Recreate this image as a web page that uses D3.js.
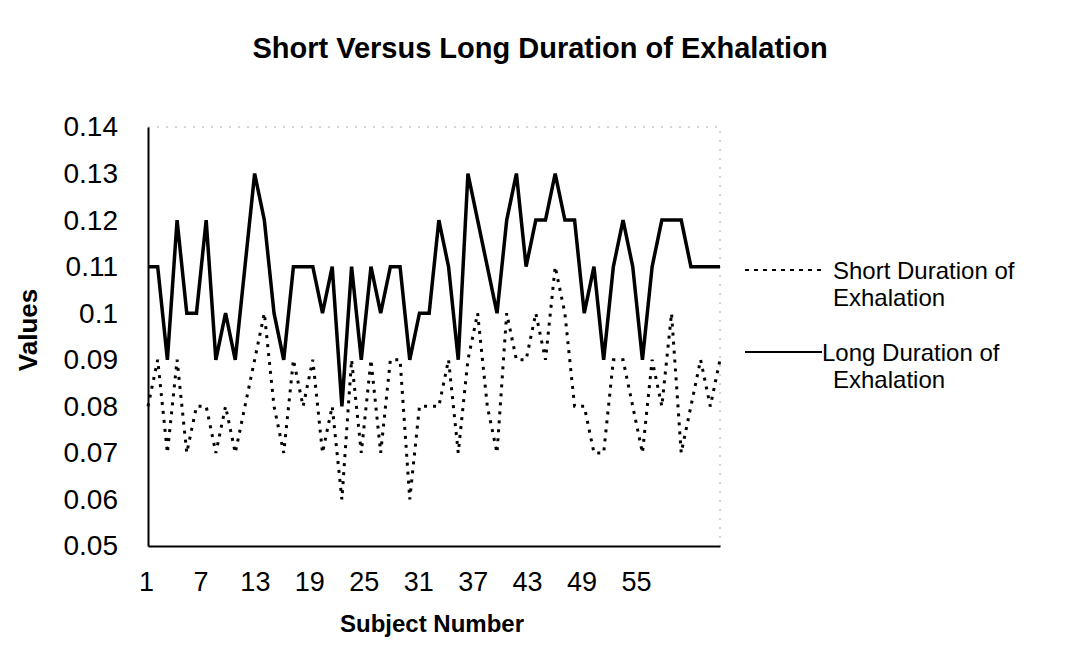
<!DOCTYPE html>
<html>
<head>
<meta charset="utf-8">
<script src="https://cdn.jsdelivr.net/npm/d3@7"></script>
<style>
	body { margin: 0; background: #fff; }
	svg text { font-family: Arial, "Liberation Sans", Helvetica, sans-serif; fill: #000; }
</style>
</head>
<body>
<div id="chart"></div>
<script>
let subjects = [1, 2, 3, 4, 5, 6, 7, 8, 9, 10, 11, 12, 13, 14, 15, 16, 17, 18, 19, 20,
	21, 22, 23, 24, 25, 26, 27, 28, 29, 30, 31, 32, 33, 34, 35, 36, 37, 38, 39, 40,
	41, 42, 43, 44, 45, 46, 47, 48, 49, 50, 51, 52, 53, 54, 55, 56, 57, 58, 59, 60];

let shortDuration = [0.08, 0.09, 0.07, 0.09, 0.07, 0.08, 0.08, 0.07, 0.08, 0.07,
	0.08, 0.09, 0.10, 0.08, 0.07, 0.09, 0.08, 0.09, 0.07, 0.08,
	0.06, 0.09, 0.07, 0.09, 0.07, 0.09, 0.09, 0.06, 0.08, 0.08,
	0.08, 0.09, 0.07, 0.09, 0.10, 0.08, 0.07, 0.10, 0.09, 0.09,
	0.10, 0.09, 0.11, 0.10, 0.08, 0.08, 0.07, 0.07, 0.09, 0.09,
	0.08, 0.07, 0.09, 0.08, 0.10, 0.07, 0.08, 0.09, 0.08, 0.09];

let longDuration = [0.11, 0.11, 0.09, 0.12, 0.10, 0.10, 0.12, 0.09, 0.10, 0.09,
	0.11, 0.13, 0.12, 0.10, 0.09, 0.11, 0.11, 0.11, 0.10, 0.11,
	0.08, 0.11, 0.09, 0.11, 0.10, 0.11, 0.11, 0.09, 0.10, 0.10,
	0.12, 0.11, 0.09, 0.13, 0.12, 0.11, 0.10, 0.12, 0.13, 0.11,
	0.12, 0.12, 0.13, 0.12, 0.12, 0.10, 0.11, 0.09, 0.11, 0.12,
	0.11, 0.09, 0.11, 0.12, 0.12, 0.12, 0.11, 0.11, 0.11, 0.11];

let yTicks = [0.05, 0.06, 0.07, 0.08, 0.09, 0.10, 0.11, 0.12, 0.13, 0.14];
let xTickLabels = [1, 7, 13, 19, 25, 31, 37, 43, 49, 55];
let legendLabels = [["Short Duration of", "Exhalation"], ["Long Duration of", "Exhalation"]];

let svg, x, xLabel, y;

//
//	initD3
//
initD3 = function () {
	svg = d3.select("#chart")
		.append("svg")
		.attr("width", 1079)
		.attr("height", 656);

	x = d3.scaleLinear().domain([1, 60]).range([148, 720]);
	// the printed labels sit a little tighter than the points in the original
	xLabel = d3.scaleLinear().domain([1, 55]).range([146, 636]);
	y = d3.scaleLinear().domain([0.05, 0.14]).range([546, 127]);
};

//
//	drawAxes
//
drawAxes = function () {
	// faint plot border (top + right)
	svg.append("path")
		.attr("d", "M" + x(1) + "," + y(0.14) + "H" + x(60) + "V" + y(0.05))
		.attr("fill", "none")
		.attr("stroke", "#aaa")
		.attr("stroke-width", 1)
		.attr("stroke-dasharray", "2,7");

	let yAxis = svg.append("g")
		.attr("transform", "translate(" + x(1) + ",0)")
		.call(d3.axisLeft(y).tickValues(yTicks).tickSize(0).tickPadding(30)
			.tickFormat((d) => String(+d.toFixed(2))));
	yAxis.select(".domain").attr("stroke", "#000").attr("stroke-width", 2);
	yAxis.selectAll("text").attr("font-size", 28).attr("font-family", null);

	let xAxis = svg.append("g")
		.attr("transform", "translate(0," + y(0.05) + ")")
		.call(d3.axisBottom(x).tickValues([]).tickSizeOuter(0));
	xAxis.select(".domain").attr("stroke", "#000").attr("stroke-width", 2);

	let xLabels = svg.append("g")
		.attr("transform", "translate(0," + y(0.05) + ")")
		.call(d3.axisBottom(xLabel).tickValues(xTickLabels).tickSize(0).tickPadding(26));
	xLabels.select(".domain").remove();
	xLabels.selectAll("text").attr("font-size", 27).attr("font-family", null);
};

//
//	drawLines
//
drawLines = function () {
	let line = d3.line()
		.x((d, i) => x(subjects[i]))
		.y((d) => y(d));

	svg.append("path")
		.datum(longDuration)
		.attr("d", line)
		.attr("fill", "none")
		.attr("stroke", "#000")
		.attr("stroke-width", 3.5)
		.attr("stroke-linejoin", "miter");

	svg.append("path")
		.datum(shortDuration)
		.attr("d", line)
		.attr("fill", "none")
		.attr("stroke", "#000")
		.attr("stroke-width", 3)
		.attr("stroke-dasharray", "3,6");
};

//
//	drawText
//
drawText = function () {
	svg.append("text")
		.attr("x", 540).attr("y", 58)
		.attr("text-anchor", "middle")
		.attr("font-size", 29).attr("font-weight", "bold")
		.text("Short Versus Long Duration of Exhalation");

	svg.append("text")
		.attr("transform", "translate(37,330) rotate(-90)")
		.attr("text-anchor", "middle")
		.attr("font-size", 26).attr("font-weight", "bold")
		.text("Values");

	svg.append("text")
		.attr("x", 432).attr("y", 632)
		.attr("text-anchor", "middle")
		.attr("font-size", 24).attr("font-weight", "bold")
		.text("Subject Number");
};

//
//	drawLegend
//
drawLegend = function () {
	let rows = [
		{ y: 270, dash: "4,5", textX: 833 },
		{ y: 352, dash: null, textX: 822 },
	];
	rows.forEach((r, i) => {
		svg.append("line")
			.attr("x1", 745).attr("x2", 822)
			.attr("y1", r.y).attr("y2", r.y)
			.attr("stroke", "#000")
			.attr("stroke-width", 2)
			.attr("stroke-dasharray", r.dash);
		svg.append("text")
			.attr("x", r.textX).attr("y", r.y + 9)
			.attr("font-size", 24)
			.text(legendLabels[i][0]);
		svg.append("text")
			.attr("x", 833).attr("y", r.y + 36)
			.attr("font-size", 24)
			.text(legendLabels[i][1]);
	});
};

initD3();
drawAxes();
drawLines();
drawText();
drawLegend();
</script>
</body>
</html>
